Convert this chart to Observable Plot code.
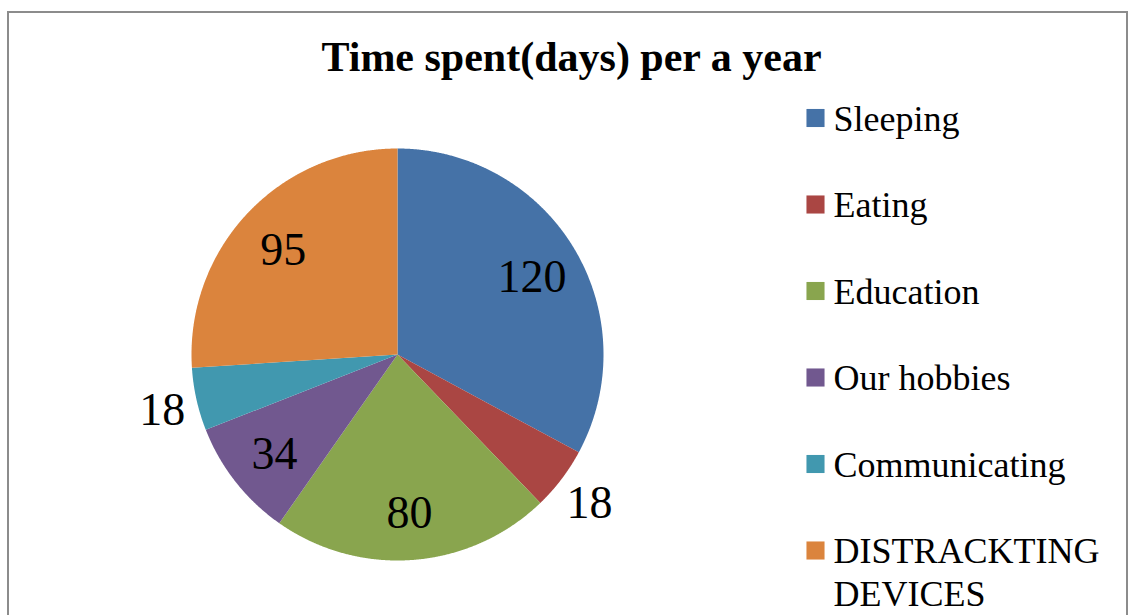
<!DOCTYPE html>
<html><head><meta charset="utf-8">
<script src="https://cdn.jsdelivr.net/npm/d3@7"></script>
<script src="https://cdn.jsdelivr.net/npm/@observablehq/plot@0.6"></script>
<style>
body{margin:0;background:#fff;width:1131px;height:615px;overflow:hidden;position:relative;font-family:"Liberation Serif",serif}
#frame{position:absolute;left:7px;top:11px;width:1121px;height:700px;border:2px solid #8c8c8c;box-sizing:border-box}
#title{position:absolute;left:571.5px;top:36px;transform:translateX(-50%);font:bold 42px/42px "Liberation Serif",serif;white-space:pre;color:#000}
#chart{position:absolute;left:0;top:0}
</style></head><body>
<div id="frame"></div>
<div id="title"></div>
<div id="chart"></div>
<script>
const title = "Time spent(days) per a year";
const categories = ["Sleeping", "Eating", "Education", "Our hobbies", "Communicating", "DISTRACKTING DEVICES"];
const values = [120, 18, 80, 34, 18, 95];
const colors = ["#4572A7", "#AA4643", "#89A54E", "#71588F", "#4198AF", "#DB843D"];

document.getElementById("title").textContent = title;

// layout constants (pixels)
const W = 1131, H = 615;
const cx = 397, cy = 354, R = 206;
const legendX = 815, legendY0 = 117.5, legendStep = 86.5;

const data = categories.map((c, i) => ({category: c, value: values[i]}));
const total = d3.sum(values);
const arcs = d3.pie().sort(null).value(d => d.value).startAngle(0).endAngle(2 * Math.PI)(data);

// slice outlines
const poly = [];
for (const a of arcs) {
  const c = a.data.category;
  poly.push({category: c, x: cx, y: cy});
  const n = Math.ceil((a.endAngle - a.startAngle) / 0.004) + 1;
  for (let k = 0; k <= n; k++) {
    const t = a.startAngle + (a.endAngle - a.startAngle) * k / n;
    poly.push({category: c, x: cx + R * Math.sin(t), y: cy - R * Math.cos(t)});
  }
  poly.push({category: c, x: cx, y: cy});
}

const labelPos = a => {
  const mid = (a.startAngle + a.endAngle) / 2;
  const f = a.data.value / total < 0.06 ? 1.17 : 0.76;
  return [cx + f * R * Math.sin(mid), cy - f * R * Math.cos(mid)];
};

const chart = Plot.plot({
  width: W, height: H, margin: 0,
  x: {domain: [0, W], range: [0, W], axis: null},
  y: {domain: [0, H], range: [0, H], axis: null},
  color: {domain: categories, range: colors},
  style: {background: "transparent", overflow: "visible"},
  marks: [
    Plot.line(poly, {x: "x", y: "y", z: "category", fill: "category", stroke: "none", curve: "linear"}),
    Plot.text(arcs, {
      x: a => labelPos(a)[0], y: a => labelPos(a)[1],
      text: a => String(a.data.value),
      dy: 3,
      fontSize: 46, fontFamily: "Liberation Serif", fill: "black"
    }),
    Plot.dot(categories, {x: legendX, y: (d, i) => legendY0 + i * legendStep, symbol: "square", r: 10.2, fill: d => d, stroke: "none"}),
    Plot.text(categories, {
      x: legendX + 18, y: (d, i) => legendY0 + i * legendStep,
      text: d => d.length > 15 ? d.replace(" ", "\n") : d,
      textAnchor: "start", lineAnchor: "top", dy: -18, lineHeight: 1.2,
      fontSize: 36, fontFamily: "Liberation Serif", fill: "black"
    })
  ]
});
document.getElementById("chart").appendChild(chart);
</script>
</body></html>
